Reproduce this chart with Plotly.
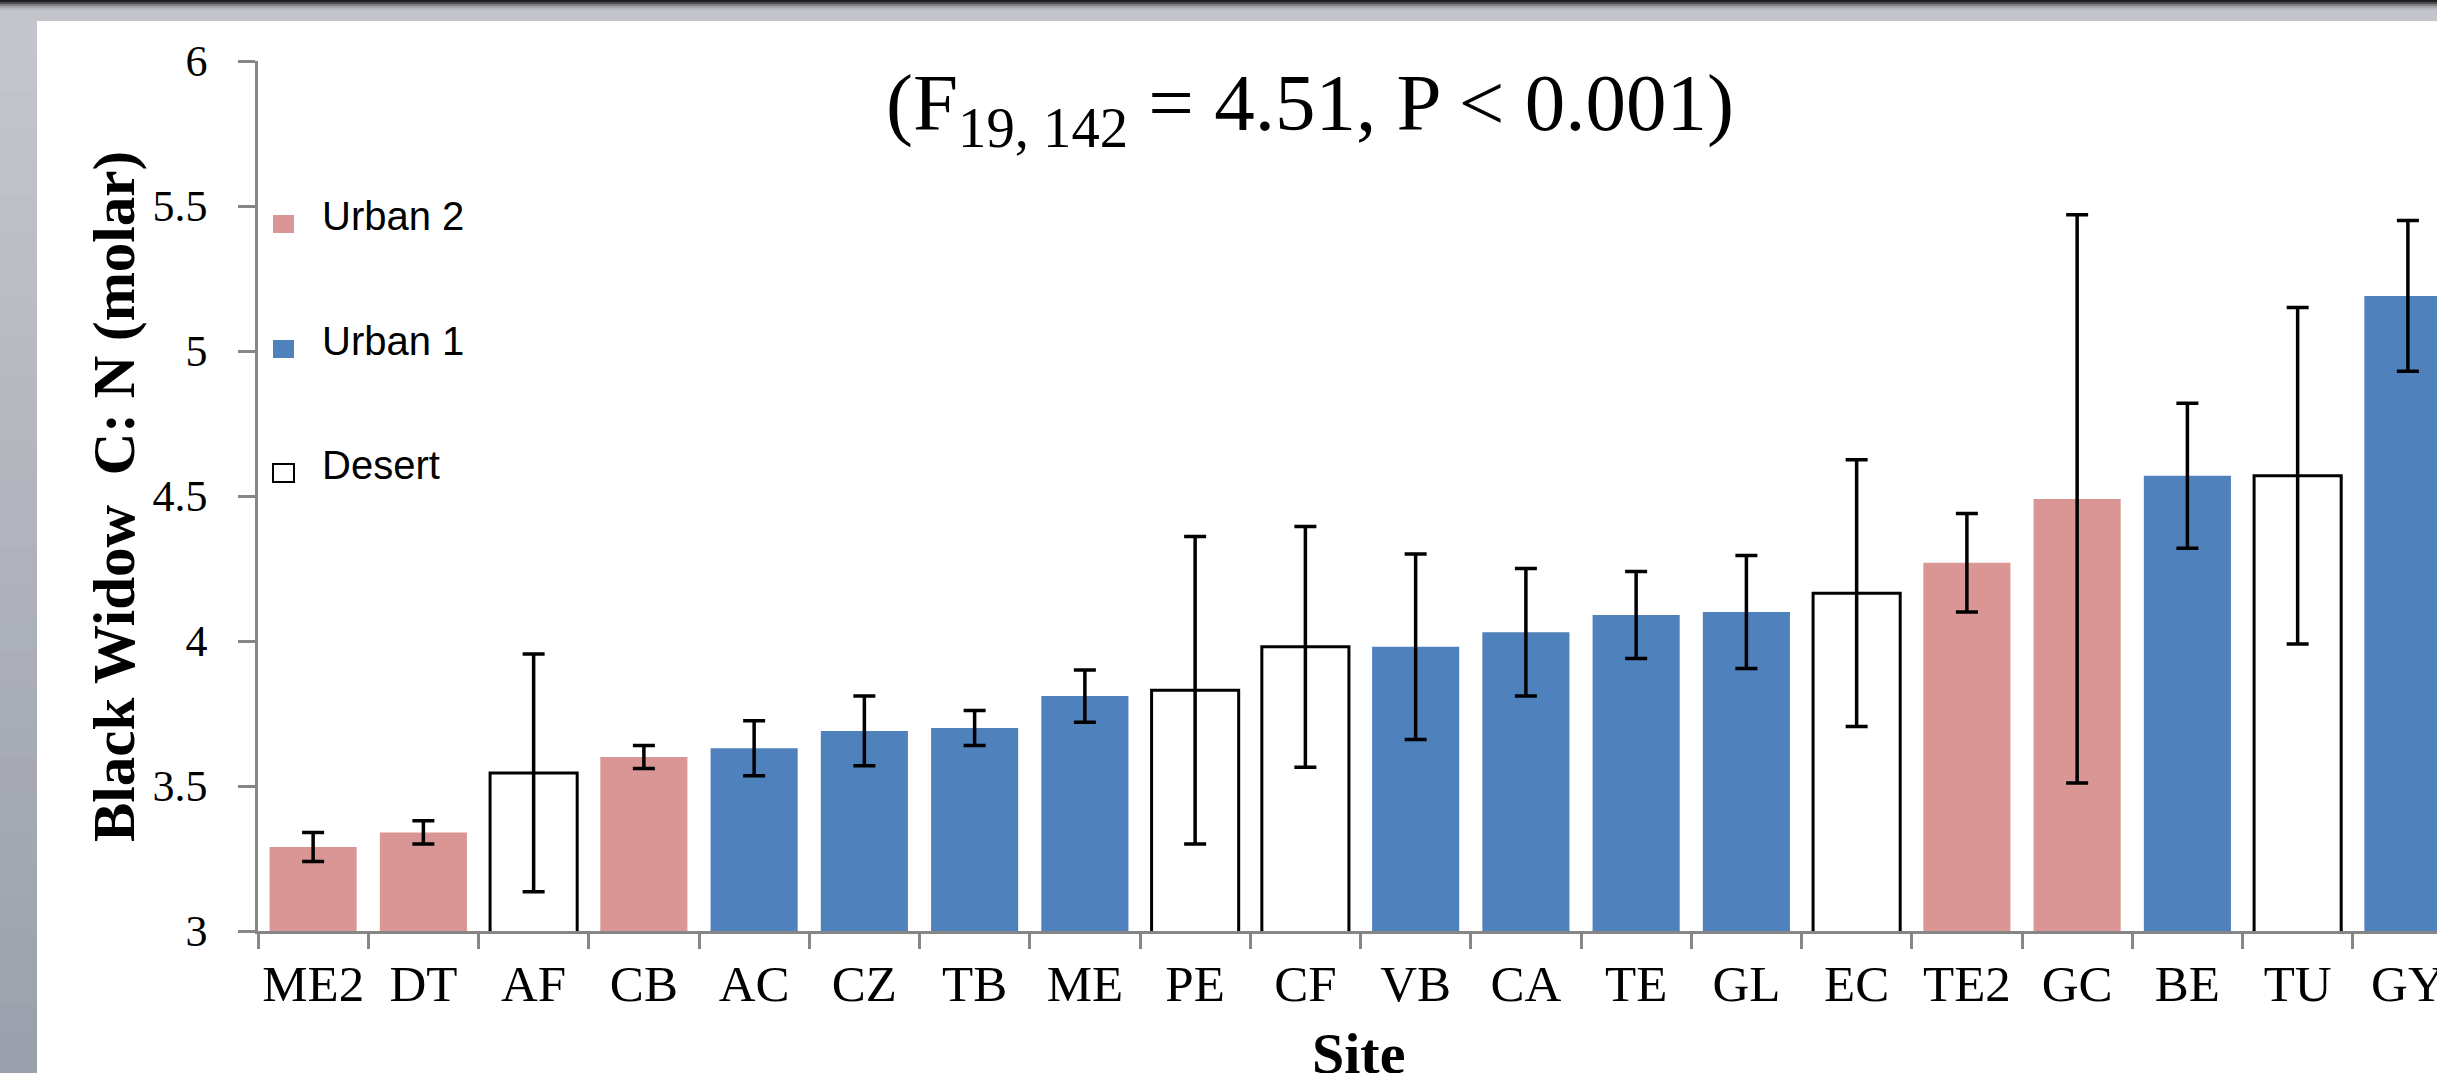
import plotly.graph_objects as go

# ---------------- data ----------------
sites = ["ME2", "DT", "AF", "CB", "AC", "CZ", "TB", "ME", "PE", "CF",
         "VB", "CA", "TE", "GL", "EC", "TE2", "GC", "BE", "TU", "GY"]
groups = ["Urban 2", "Urban 2", "Desert", "Urban 2", "Urban 1", "Urban 1", "Urban 1", "Urban 1", "Desert", "Desert",
          "Urban 1", "Urban 1", "Urban 1", "Urban 1", "Desert", "Urban 2", "Urban 2", "Urban 1", "Desert", "Urban 1"]
means = [3.29, 3.34, 3.545, 3.60, 3.63, 3.69, 3.70, 3.81, 3.83, 3.98,
         3.98, 4.03, 4.09, 4.10, 4.165, 4.27, 4.49, 4.57, 4.57, 5.19]
errors = [0.05, 0.04, 0.41, 0.04, 0.095, 0.12, 0.06, 0.09, 0.53, 0.415,
          0.32, 0.22, 0.15, 0.195, 0.46, 0.17, 0.98, 0.25, 0.58, 0.26]
legend_names = ["Urban 2", "Urban 1", "Desert"]
y_ticks = [3, 3.5, 4, 4.5, 5, 5.5, 6]

# ---------------- styles ----------------
fill_colors = {"Urban 2": "#D99694", "Urban 1": "#4F81BD", "Desert": "#FFFFFF"}
line_colors = {"Urban 2": "rgba(0,0,0,0)", "Urban 1": "rgba(0,0,0,0)", "Desert": "#000000"}
line_widths = {"Urban 2": 0, "Urban 1": 0, "Desert": 3}
AXIS_GREY = "#868686"
SERIF = "Liberation Serif, Times New Roman, serif"
SANS = "Liberation Sans, Arial, sans-serif"

W, H = 2437, 1073
ML, MR, MT, MB = 258, 0, 61, 142
PW = W - ML - MR
PH = H - MT - MB


def pxx(px):
    return (px - ML) / PW


def pxy(py):
    return (H - MB - py) / PH


fig = go.Figure()
fig.add_trace(go.Bar(
    x=sites,
    y=means,
    marker=dict(
        color=[fill_colors[g] for g in groups],
        line=dict(color=[line_colors[g] for g in groups],
                  width=[line_widths[g] for g in groups]),
    ),
    error_y=dict(type="data", array=errors, visible=True,
                 color="#000000", thickness=3.5, width=11),
    showlegend=False,
))

shapes = []
# slide background bands (top and left)
shapes.append(dict(type="rect", xref="paper", yref="paper", layer="above",
                   x0=pxx(0), x1=pxx(W), y0=pxy(21), y1=pxy(0),
                   fillcolor="#c4c5ca", line=dict(width=0)))
top_cols = ["#1e1e1e", "#4a4b4e", "#7d7e82", "#a4a5aa", "#b8b9be"]
for i, c in enumerate(top_cols):
    shapes.append(dict(type="rect", xref="paper", yref="paper", layer="above",
                       x0=pxx(0), x1=pxx(W), y0=pxy(2 * i + 2), y1=pxy(2 * i),
                       fillcolor=c, line=dict(width=0)))
n_slices = 30
c0 = (0xc5, 0xc6, 0xcb)
c1 = (0x9b, 0xa0, 0xac)
for i in range(n_slices):
    t = i / (n_slices - 1)
    col = "rgb(%d,%d,%d)" % tuple(round(a + (b - a) * t) for a, b in zip(c0, c1))
    ya = 21 + (H - 21) * i / n_slices
    yb = 21 + (H - 21) * (i + 1) / n_slices + 1
    shapes.append(dict(type="rect", xref="paper", yref="paper", layer="above",
                       x0=pxx(0), x1=pxx(37), y0=pxy(yb), y1=pxy(ya),
                       fillcolor=col, line=dict(width=0)))

# manual legend
legend_y = [224, 349, 473]
annotations = []
for name, yc in zip(legend_names, legend_y):
    is_desert = name == "Desert"
    shapes.append(dict(type="rect", xref="paper", yref="paper",
                       x0=pxx(273), x1=pxx(294), y0=pxy(yc + 9), y1=pxy(yc - 9),
                       fillcolor=fill_colors[name],
                       line=dict(color="#000000" if is_desert else fill_colors[name],
                                 width=2 if is_desert else 0)))
    annotations.append(dict(xref="paper", yref="paper", x=pxx(320), y=pxy(yc - 8),
                            xanchor="left", yanchor="middle", showarrow=False,
                            text=name, font=dict(family=SANS, size=40, color="#000000")))

# statistics title
annotations.append(dict(xref="paper", yref="paper", x=pxx(1310), y=pxy(108),
                        xanchor="center", yanchor="middle", showarrow=False,
                        text="(F<sub>19, 142</sub> = 4.51, P &lt; 0.001)",
                        font=dict(family=SERIF, size=81, color="#000000")))
# y-axis title
annotations.append(dict(xref="paper", yref="paper", x=pxx(114), y=pxy(497),
                        xanchor="center", yanchor="middle", showarrow=False, textangle=-90,
                        text="<b>Black Widow  C: N (molar)</b>",
                        font=dict(family=SERIF, size=59, color="#000000")))
# x-axis title
annotations.append(dict(xref="paper", yref="paper", x=pxx(1358), y=pxy(1053),
                        xanchor="center", yanchor="middle", showarrow=False,
                        text="<b>Site</b>",
                        font=dict(family=SERIF, size=58, color="#000000")))

fig.update_layout(
    width=W, height=H, autosize=False,
    margin=dict(l=ML, r=MR, t=MT, b=MB, pad=0),
    paper_bgcolor="#FFFFFF", plot_bgcolor="#FFFFFF",
    bargap=0.21,
    showlegend=False,
    shapes=shapes,
    annotations=annotations,
    xaxis=dict(
        type="category", range=[-0.5, 19.264], automargin=False,
        showline=True, linecolor=AXIS_GREY, linewidth=2.5,
        ticks="outside", tickson="boundaries", ticklen=15, tickwidth=2.5, tickcolor=AXIS_GREY,
        tickfont=dict(family=SERIF, size=51, color="#000000"),
        tickangle=0,
        ticklabelstandoff=6,
        showgrid=False, zeroline=False, fixedrange=True,
    ),
    yaxis=dict(
        range=[3, 6], tickvals=y_ticks, ticktext=[("%g" % v) for v in y_ticks],
        automargin=False,
        showline=True, linecolor=AXIS_GREY, linewidth=2.5,
        ticks="outside", ticklen=17, tickwidth=2.5, tickcolor=AXIS_GREY,
        tickfont=dict(family=SERIF, size=44, color="#000000"),
        ticklabelstandoff=22,
        showgrid=False, zeroline=False, fixedrange=True,
    ),
)

fig.write_html("out.html",
               config={"displayModeBar": False},
               post_script="document.body.style.margin='0';document.body.style.overflow='hidden';")
